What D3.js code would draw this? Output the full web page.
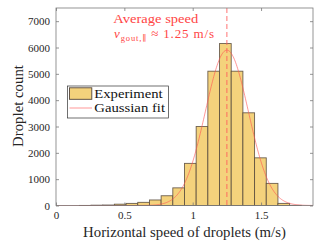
<!DOCTYPE html>
<html><head><meta charset="utf-8">
<script src="https://cdn.jsdelivr.net/npm/d3@7"></script>
<style>
html,body{margin:0;padding:0;background:#fff;}
svg{display:block;font-family:"Liberation Serif","DejaVu Serif",serif;}
</style></head>
<body>
<svg id="chart" width="327" height="247"></svg>
<script>
// ---- data ----
const binStart = 0;
const binWidth = 0.08545;
const binCounts = [0, 0, 3, 12, 18, 50, 80, 120, 210, 370, 670, 1600, 3000, 5100, 6150, 5100, 3520, 1810, 840, 80, 5, 0];
const fitAmplitude = 5900;
const fitMean = 1.25;
const fitSigma = 0.157;
const xTicks = [0, 0.5, 1, 1.5];
const yTicks = [0, 1000, 2000, 3000, 4000, 5000, 6000, 7000];
const xDomain = [0, 1.88];
const yDomain = [0, 7500];
const legendLabels = ["Experiment", "Gaussian fit"];

const svg = d3.select("#chart");
const m = {l: 56, r: 313, t: 8, b: 205.5};
const x = d3.scaleLinear().domain(xDomain).range([m.l, m.r]);
const y = d3.scaleLinear().domain(yDomain).range([m.b, m.t]);

// scale a text's font-size so that it spans a target width
function fitWidth(sel, target) {
  const w = sel.node().getComputedTextLength();
  const fs = parseFloat(sel.attr("font-size"));
  if (w > 0) sel.attr("font-size", fs * target / w);
}
// spread letters so that a text spans a target width
function spreadWidth(sel, target) {
  const w = sel.node().getComputedTextLength();
  const n = sel.text().length;
  if (w > 0 && n > 1) sel.attr("letter-spacing", (target - w) / n);
}

const bins = binCounts.map((c, i) => ({x0: binStart + i * binWidth, x1: binStart + (i + 1) * binWidth, c}));

const barFill = "#f4d27c";
const barStroke = "#54463a";

svg.append("g").selectAll("rect").data(bins.filter(d => d.c > 0)).join("rect")
  .attr("x", d => x(d.x0)).attr("width", d => x(d.x1) - x(d.x0))
  .attr("y", d => y(d.c)).attr("height", d => y(0) - y(d.c))
  .attr("fill", barFill).attr("stroke", barStroke).attr("stroke-width", 0.9).attr("stroke-opacity", 0.85);

// gaussian fit line
const fitX = d3.range(0, 400).map(i => xDomain[0] + (xDomain[1] - xDomain[0]) * i / 399);
const line = d3.line().x(d => x(d)).y(d => y(fitAmplitude * Math.exp(-((d - fitMean) ** 2) / (2 * fitSigma * fitSigma))));
svg.append("path").datum(fitX).attr("d", line).attr("fill", "none")
  .attr("stroke", "#ff5050").attr("stroke-opacity", 0.75).attr("stroke-width", 0.8);

// mean dashed line
svg.append("line").attr("x1", x(fitMean)).attr("x2", x(fitMean)).attr("y1", m.t).attr("y2", m.b)
  .attr("stroke", "#ff5a5a").attr("stroke-opacity", 0.85).attr("stroke-width", 1).attr("stroke-dasharray", "5,3");

// axes box
const axisColor = "#7a7a7a";
svg.append("rect").attr("x", m.l).attr("y", m.t).attr("width", m.r - m.l).attr("height", m.b - m.t)
  .attr("fill", "none").attr("stroke", axisColor).attr("stroke-width", 0.8);

const tickLen = 3;
const xAxisB = d3.axisBottom(x).tickValues(xTicks).tickSize(-tickLen).tickPadding(6).tickFormat(d3.format("~g"));
const gx = svg.append("g").attr("transform", `translate(0,${m.b})`).call(xAxisB);
const xAxisT = d3.axisTop(x).tickValues(xTicks).tickSize(-tickLen).tickFormat("");
const gxt = svg.append("g").attr("transform", `translate(0,${m.t})`).call(xAxisT);
const yAxisL = d3.axisLeft(y).tickValues(yTicks).tickSize(-tickLen).tickPadding(6).tickFormat(d3.format("d"));
const gy = svg.append("g").attr("transform", `translate(${m.l},0)`).call(yAxisL);
const yAxisR = d3.axisRight(y).tickValues(yTicks).tickSize(-tickLen).tickFormat("");
const gyr = svg.append("g").attr("transform", `translate(${m.r},0)`).call(yAxisR);
[gx, gxt, gy, gyr].forEach(g => {
  g.select(".domain").remove();
  g.selectAll("line").attr("stroke", axisColor).attr("stroke-width", 0.8);
  g.selectAll("text").attr("fill", "#262626").attr("font-family", "Liberation Serif").attr("font-size", 11);
});

// axis labels
const xl = svg.append("text").attr("x", 184.5).attr("y", 236.5).attr("text-anchor", "middle")
  .attr("font-size", 13).attr("fill", "#262626").text("Horizontal speed of droplets (m/s)");
fitWidth(xl, 203);
const yl = svg.append("text").attr("transform", `translate(22.5,106) rotate(-90)`).attr("text-anchor", "middle")
  .attr("font-size", 13).attr("fill", "#262626").text("Droplet count");
fitWidth(yl, 82);

// annotation
const red = "#ff4545";
svg.append("text").attr("x", 113.3).attr("y", 23).attr("font-size", 13)
  .attr("textLength", 85).attr("lengthAdjust", "spacingAndGlyphs").attr("fill", red).text("Average speed");
const t2 = svg.append("text").attr("x", 114).attr("y", 38).attr("font-size", 13).attr("fill", red);
t2.append("tspan").attr("font-style", "italic").text("v");
t2.append("tspan").attr("font-size", 8.5).attr("dy", 2.5).text("gout,\u2225");
t2.append("tspan").attr("dy", -2.5).text(" \u2248 1.25 m/s");
spreadWidth(t2, 101);

// legend
const lg = svg.append("g");
lg.append("rect").attr("x", 67.5).attr("y", 86).attr("width", 101).attr("height", 32)
  .attr("fill", "#fff").attr("stroke", "#333").attr("stroke-width", 0.7);
lg.append("rect").attr("x", 69.5).attr("y", 87.8).attr("width", 22.3).attr("height", 11.5)
  .attr("fill", barFill).attr("stroke", barStroke).attr("stroke-width", 0.9);
lg.append("line").attr("x1", 69.5).attr("x2", 92).attr("y1", 108).attr("y2", 108)
  .attr("stroke", "#ff5050").attr("stroke-opacity", 0.75).attr("stroke-width", 0.8);
const legendWidths = [68.4, 70.7];
lg.selectAll("text.lab").data(legendLabels).join("text").attr("class", "lab")
  .attr("x", 94.3).attr("y", (d, i) => 98 + i * 14).attr("font-size", 13)
  .attr("textLength", (d, i) => legendWidths[i]).attr("lengthAdjust", "spacingAndGlyphs")
  .attr("fill", "#111").text(d => d);
</script>
</body></html>
